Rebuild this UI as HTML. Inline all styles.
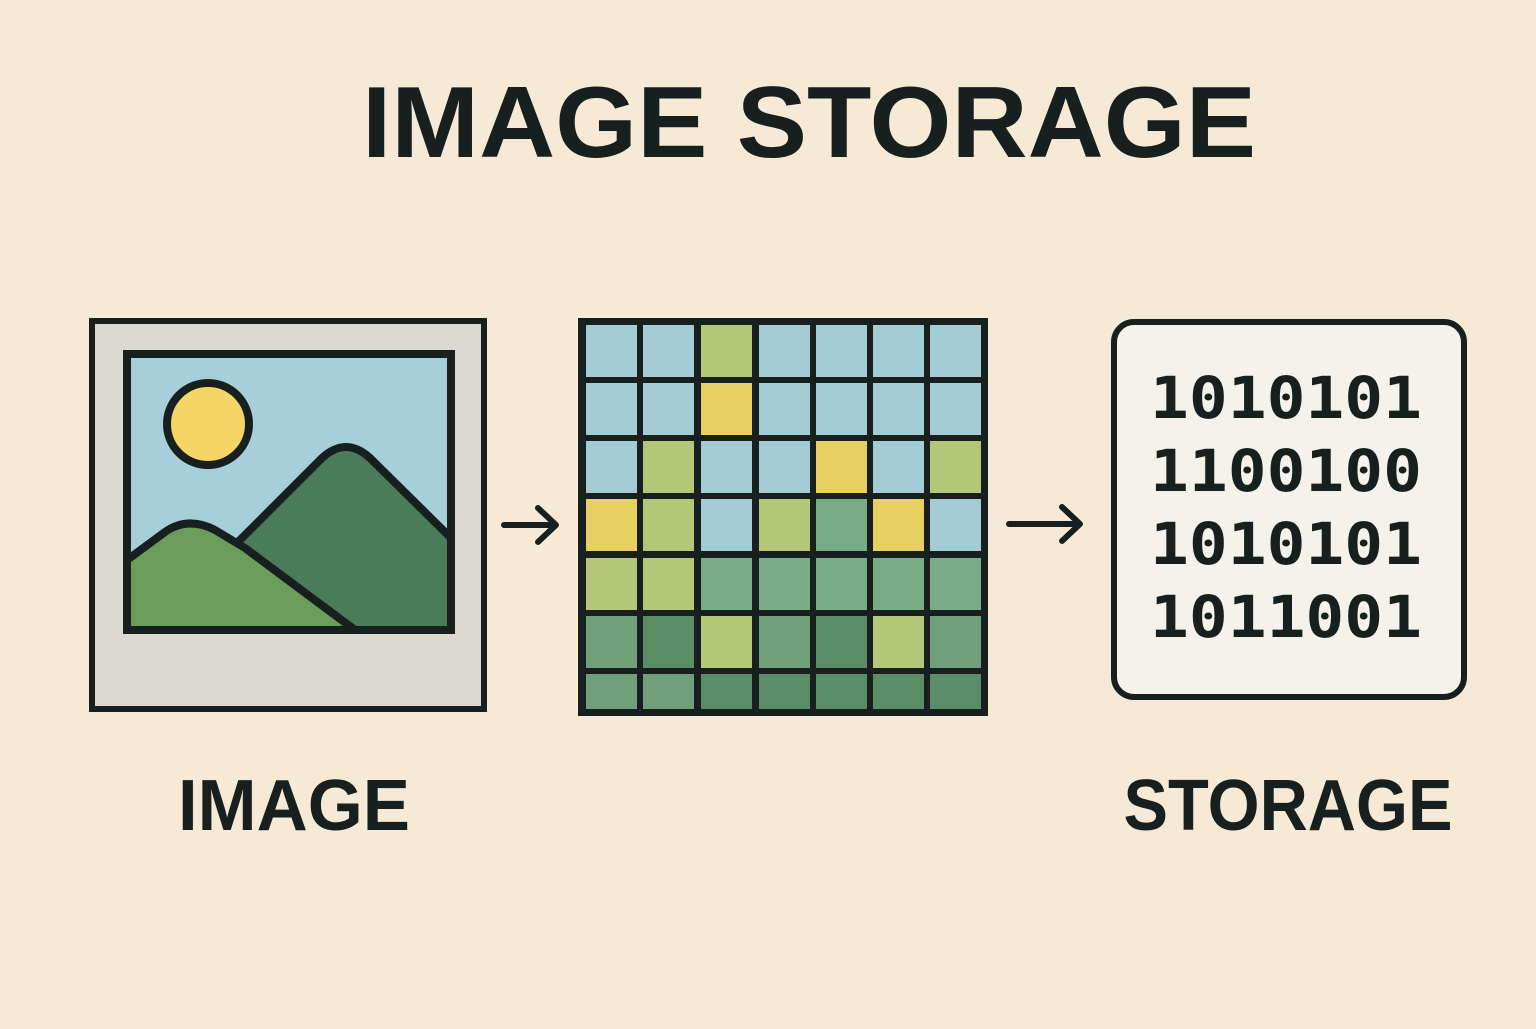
<!DOCTYPE html>
<html><head><meta charset="utf-8"><style>
html,body{margin:0;padding:0;background:#f6ead6;}
</style></head><body>
<svg width="1536" height="1024" viewBox="0 0 1536 1024" xmlns="http://www.w3.org/2000/svg">
<rect width="1536" height="1024" fill="#f6ead6"/>
<text x="809" y="157" text-anchor="middle" font-family="Liberation Sans, sans-serif" font-weight="bold" font-size="101" fill="#18201f" textLength="894" lengthAdjust="spacingAndGlyphs">IMAGE STORAGE</text>

<!-- image frame -->
<rect x="92" y="321" width="392" height="388" fill="#dcd9d0" stroke="#18201f" stroke-width="6"/>
<rect x="127" y="354" width="324" height="276" fill="#a6cfd9"/>
<path d="M232,548 L322,458 Q346,436 370,458 L451,538 L451,630 L355,630 Z" fill="#4a7c5a" stroke="#18201f" stroke-width="8" stroke-linejoin="round"/>
<path d="M127,560 L165,532 Q188,516 215,530 L245,548 L355,630 L127,630 Z" fill="#6a9c5a" stroke="#18201f" stroke-width="8" stroke-linejoin="round"/>
<rect x="127" y="354" width="324" height="276" fill="none" stroke="#18201f" stroke-width="8"/>
<circle cx="208" cy="424" r="41" fill="#f5d563" stroke="#18201f" stroke-width="8"/>

<!-- arrows -->
<g stroke="#18201f" stroke-width="6" fill="none" stroke-linecap="round" stroke-linejoin="round">
<path d="M504,525 H554 M538,508 L556,525 L538,542"/>
<path d="M1009,524 H1078 M1062,507 L1080,524 L1062,541"/>
</g>

<!-- grid -->
<rect x="578" y="318" width="410" height="398" fill="#18201f"/>
<g id="cells"></g>

<!-- storage -->
<rect x="1114" y="322" width="350" height="375" rx="20" fill="#f5f2ec" stroke="#18201f" stroke-width="6"/>
<g font-family="DejaVu Sans Mono, monospace" font-weight="bold" font-size="58" fill="#18201f">
<text x="1150" y="418" textLength="272" lengthAdjust="spacingAndGlyphs">1010101</text>
<text x="1150" y="491" textLength="272" lengthAdjust="spacingAndGlyphs">1100100</text>
<text x="1150" y="564" textLength="272" lengthAdjust="spacingAndGlyphs">1010101</text>
<text x="1150" y="637" textLength="272" lengthAdjust="spacingAndGlyphs">1011001</text>
</g>

<text x="294" y="830" text-anchor="middle" font-family="Liberation Sans, sans-serif" font-weight="bold" font-size="72" fill="#18201f" textLength="232" lengthAdjust="spacingAndGlyphs">IMAGE</text>
<text x="1288" y="830" text-anchor="middle" font-family="Liberation Sans, sans-serif" font-weight="bold" font-size="72" fill="#18201f" textLength="329" lengthAdjust="spacingAndGlyphs">STORAGE</text>
</svg>
<script>
var rows=["BBLBBBB","BBYBBBB","BLBBYBL","YLBLMYB","LLMMMMM","MDLMDLM","MMDDDDD"];
var col={B:"#a3ccd4",L:"#b2c878",Y:"#e8d060",M:"#79ab84",D:"#5a8d66"};
var xs=[586,643,701,759,816,873,930],ys=[325,383,441,499,558,616,674],hs=[52,52,52,52,52,52,35];
var g=document.getElementById("cells"),s="";
for(var r=0;r<7;r++)for(var c=0;c<7;c++){
var k=rows[r][c],f=col[k];
if(r==6&&c<2)f="#6fa07a";
if(r==5&&(c==0||c==3||c==6))f="#6fa07a";
s+='<rect x="'+xs[c]+'" y="'+ys[r]+'" width="51" height="'+hs[r]+'" fill="'+f+'"/>';}
g.innerHTML=s;
</script>
</body></html>
